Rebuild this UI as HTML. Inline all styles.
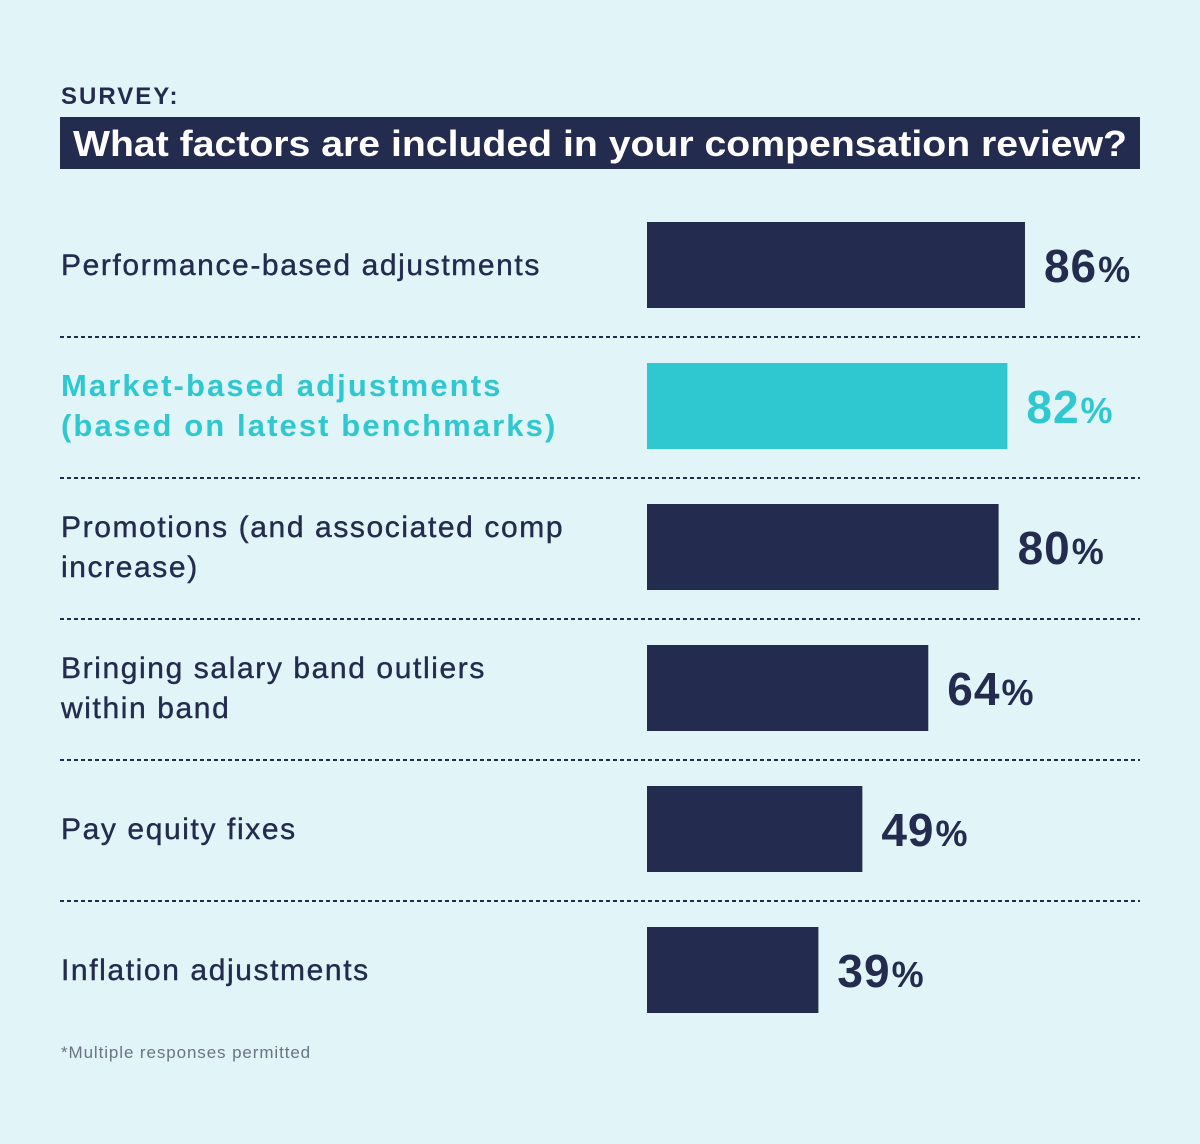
<!DOCTYPE html>
<html><head><meta charset="utf-8"><style>
body{margin:0;width:1200px;height:1144px;background:#e1f4f8;font-family:"Liberation Sans",sans-serif;color:#232b4e;position:relative;overflow:hidden}
.abs{position:absolute}
#survey{left:61px;top:83px;font-size:24px;font-weight:bold;letter-spacing:2px}
#title{left:60px;top:117px;width:1080px;height:52px;background:#232b4e}
#note{left:61px;top:1043px;font-size:17px;color:#6b7287;letter-spacing:0.9px}
</style></head><body>
<div class="abs" id="survey">SURVEY:</div>
<svg class="abs" id="title" width="1080" height="52"><text x="13" y="39" fill="#fff" font-size="36" font-weight="bold" textLength="1054" lengthAdjust="spacingAndGlyphs" font-family="Liberation Sans, sans-serif">What factors are included in your compensation review?</text></svg>
<svg class="abs" style="left:0;top:0" width="1200" height="1144" id="chart"></svg>
<div class="abs" id="note">*Multiple responses permitted</div>
<script>
const categories=[["Performance-based adjustments"],["Market-based adjustments","(based on latest benchmarks)"],["Promotions (and associated comp","increase)"],["Bringing salary band outliers","within band"],["Pay equity fixes"],["Inflation adjustments"]];
const values=[86,82,80,64,49,39];
const highlight=[false,true,false,false,false,false];
const svg=document.getElementById('chart');
const NS='http://www.w3.org/2000/svg';
const x0=647,pxPer=4.395,top0=222,step=141,barH=86;
const xScale=v=>v*pxPer;
const yScale=i=>top0+i*step;
function mk(t,a){const e=document.createElementNS(NS,t);for(const k in a)e.setAttribute(k,a[k]);svg.appendChild(e);return e;}
values.forEach((v,i)=>{
  const y=yScale(i),col=highlight[i]?'#2fc7d0':'#232b4e';
  const r=mk('rect',{x:x0,y:y,width:xScale(v),height:barH,fill:col});
  
  
  const t=mk('text',{x:x0+xScale(v)+19,y:y+60,fill:col,'font-size':46,'font-weight':'bold','letter-spacing':1,'font-family':'Liberation Sans, sans-serif'});
  t.innerHTML=v+'<tspan font-size="36" dx="1">%</tspan>';
  
  
  const lines=categories[i];
  const lh=40, cy=y+barH/2, start=cy-(lines.length-1)*lh/2+10;
  lines.forEach((ln,j)=>{
    const l=mk('text',{x:61,y:start+j*lh,fill:col,stroke:col,'stroke-width':highlight[i]?0:0.4,'font-size':highlight[i]?31:30,'letter-spacing':highlight[i]?2.1:1.6,'font-weight':highlight[i]?'bold':'normal','font-family':'Liberation Sans, sans-serif'});
    l.textContent=ln;
    
    
  });
  if(i<values.length-1){
    const d=mk('line',{x1:60,x2:1140,y1:y+barH+29,y2:y+barH+29,stroke:'#232b4e','stroke-width':2,'stroke-dasharray':'4 3'});
    
    
  }
});
</script>
</body></html>
